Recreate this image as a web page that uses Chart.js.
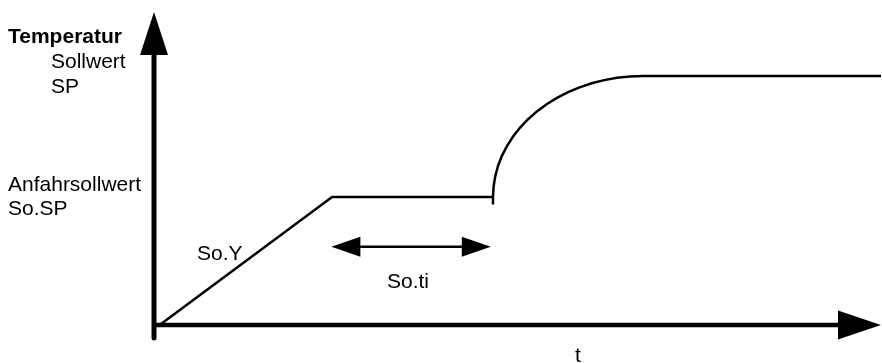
<!DOCTYPE html>
<html>
<head>
<meta charset="utf-8">
<script src="https://cdn.jsdelivr.net/npm/chart.js@4/dist/chart.umd.min.js"></script>
<style>
  html, body { margin: 0; padding: 0; background: #fff; }
  canvas { display: block; }
</style>
</head>
<body>
<canvas id="sollwertChart" width="882" height="363"></canvas>
<script>
// ramp (So.Y) up to the start setpoint, then hold for So.ti
var rampTime = [1, 24.6, 46.7];
var rampTemp = [0.5, 41.2, 41.2];

// rise from So.SP to the final setpoint SP
var riseTime = [46.7, 46.7, 46.79, 47.02, 47.4, 47.94, 48.64, 49.46, 50.43, 51.52, 52.73,
                 54.07, 55.49, 57.01, 58.6, 60.26, 61.98, 63.73, 65.51, 67.31, 100];
var riseTemp = [38.8, 41.2, 44.6, 47.92, 51.21, 54.44, 57.54, 60.54, 63.39, 66.07, 68.56,
                70.83, 72.88, 74.7, 76.26, 77.54, 78.56, 79.3, 79.71, 79.87, 79.87];

// hold time span So.ti (start, end) and where it is drawn
var holdSpan = [24.5, 46.4];
var holdLevel = 25.3;

var axisEnd = { t: 100, temp: 100.3 };

var labels = [
    { text: 'Temperatur', x: 8, y: 43, bold: true },
    { text: 'Sollwert', x: 51, y: 68 },
    { text: 'SP', x: 51, y: 93 },
    { text: 'Anfahrsollwert', x: 8, y: 191 },
    { text: 'So.SP', x: 8, y: 215 },
    { text: 'So.Y', x: 197, y: 260 },
    { text: 'So.ti', x: 387, y: 288 },
    { text: 't', x: 575, y: 362 }
];

function toPoints(xs, ys) {
    return xs.map(function (v, i) { return { x: v, y: ys[i] }; });
}

function arrowHead(ctx, tipX, tipY, dirX, dirY, len, half) {
    var bx = tipX - dirX * len, by = tipY - dirY * len;
    ctx.beginPath();
    ctx.moveTo(tipX, tipY);
    ctx.lineTo(bx - dirY * half, by + dirX * half);
    ctx.lineTo(bx + dirY * half, by - dirX * half);
    ctx.closePath();
    ctx.fill();
}

var diagramPlugin = {
    id: 'diagram',
    beforeDatasetsDraw: function (chart) {
        var ctx = chart.ctx;
        var xs = chart.scales.x, ys = chart.scales.y;
        var ox = xs.getPixelForValue(0) + 1, oy = ys.getPixelForValue(0) - 1;
        var tx = xs.getPixelForValue(axisEnd.t), ty = ys.getPixelForValue(axisEnd.temp);
        ctx.save();
        ctx.fillStyle = '#000';
        ctx.strokeStyle = '#000';
        ctx.lineCap = 'round';
        // y axis
        ctx.lineWidth = 5;
        ctx.beginPath();
        ctx.moveTo(ox, oy + 13);
        ctx.lineTo(ox, ty + 40);
        ctx.stroke();
        arrowHead(ctx, ox, ty, 0, -1, 43, 14);
        // x axis
        ctx.lineWidth = 4.5;
        ctx.lineCap = 'butt';
        ctx.beginPath();
        ctx.moveTo(ox - 2, oy);
        ctx.lineTo(tx - 40, oy);
        ctx.stroke();
        arrowHead(ctx, tx, oy, 1, 0, 43, 14.5);
        // So.ti double arrow
        var ax1 = xs.getPixelForValue(holdSpan[0]), ax2 = xs.getPixelForValue(holdSpan[1]);
        var ay = ys.getPixelForValue(holdLevel);
        ctx.lineWidth = 2.5;
        ctx.beginPath();
        ctx.moveTo(ax1 + 20, ay);
        ctx.lineTo(ax2 - 20, ay);
        ctx.stroke();
        arrowHead(ctx, ax1, ay, -1, 0, 29, 10);
        arrowHead(ctx, ax2, ay, 1, 0, 29, 10);
        // labels
        ctx.textBaseline = 'alphabetic';
        ctx.textAlign = 'left';
        labels.forEach(function (l) {
            ctx.font = (l.bold ? 'bold ' : '') + '21px "Liberation Sans", Arial, sans-serif';
            ctx.fillText(l.text, l.x, l.y);
        });
        ctx.restore();
    }
};

var ctx = document.getElementById('sollwertChart');
var sollwertChart = new Chart(ctx, {
    type: 'scatter',
    plugins: [diagramPlugin],
    data: {
        datasets: [{
            label: 'Rampe',
            data: toPoints(rampTime, rampTemp),
            showLine: true,
            borderColor: '#000',
            borderWidth: 2.5,
            pointRadius: 0,
            tension: 0
        }, {
            label: 'Sollwert',
            data: toPoints(riseTime, riseTemp),
            showLine: true,
            borderColor: '#000',
            borderWidth: 2.5,
            pointRadius: 0,
            tension: 0
        }]
    },
    options: {
        responsive: false,
        animation: false,
        layout: { padding: 0 },
        plugins: {
            legend: { display: false },
            tooltip: { enabled: false }
        },
        scales: {
            x: { type: 'linear', display: false, min: -21.02, max: 100.14 },
            y: { type: 'linear', display: false, min: -11.82, max: 104.15 }
        }
    }
});
</script>
</body>
</html>
